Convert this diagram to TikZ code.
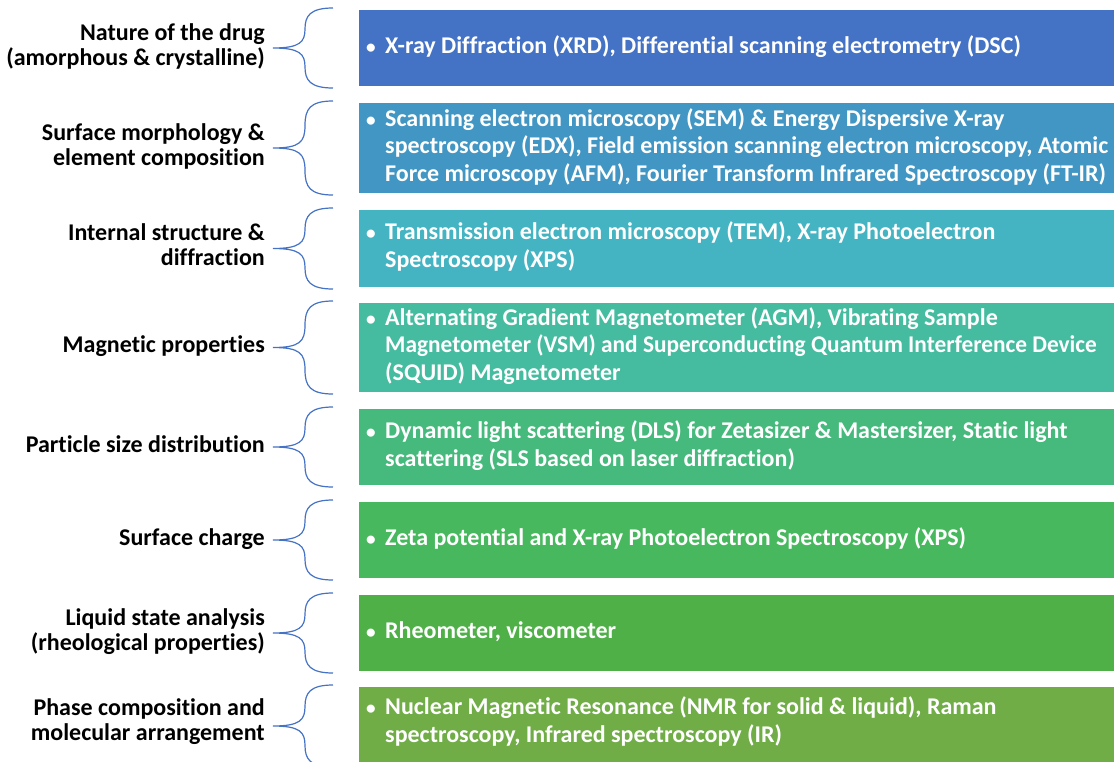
\documentclass[tikz,border=0pt]{standalone}
\usepackage{fontspec}
\setmainfont{Carlito}[Ligatures=NoCommon]
\definecolor{cA}{HTML}{4472C4}
\definecolor{cB}{HTML}{4296C3}
\definecolor{cC}{HTML}{44B4C2}
\definecolor{cD}{HTML}{45BC9F}
\definecolor{cE}{HTML}{46B97C}
\definecolor{cF}{HTML}{47B85D}
\definecolor{cG}{HTML}{4FB048}
\definecolor{cH}{HTML}{70AD47}
\definecolor{braceblue}{HTML}{4472C4}
\newcommand{\boxtext}[1]{\fontsize{24}{27.5}\selectfont\bfseries\makebox[19pt][l]{\scalebox{0.8}{\textbullet}}\begin{tabular}[t]{@{}l@{}}#1\end{tabular}}
\newcommand{\labtext}[1]{\fontsize{24}{25}\selectfont\bfseries\begin{tabular}[t]{@{}r@{}}#1\end{tabular}}
\begin{document}
\begin{tikzpicture}[x=1pt,y=-1pt,
  techbox/.style={fill=#1,draw=none},
  techtext/.style={anchor=west,inner sep=0pt,text=white,font=\bfseries},
  labnode/.style={anchor=east,inner sep=0pt,text=black},
  bracecurve/.style={draw=braceblue,line width=1.2pt}]
\useasboundingbox (0,0) rectangle (1117,761);
\foreach \t/\b/\c [count=\i] in {10/86/cA,103/193/cB,210/287/cC,303/392/cD,409/485/cE,502/578/cF,595/671/cG,687/765/cH}{
  \fill[techbox=\c] (359,\t) rectangle (1114,\b);
  \pgfmathsetmacro{\m}{(\t+\b)/2}
  \pgfmathsetmacro{\q}{(\t+\m)/2}
  \pgfmathsetmacro{\r}{(\m+\b)/2}
  \coordinate (bt\i) at (333,\t-2);
  \coordinate (bm\i) at (273,\m);
  \coordinate (bb\i) at (333,\b+2);
  \draw[bracecurve] (bt\i) .. controls (310,\t-2) and (305,\t+6) .. (305,\q)
     .. controls (305,\m-6) and (300,\m) .. (bm\i)
     .. controls (300,\m) and (305,\m+6) .. (305,\r)
     .. controls (305,\b-6) and (310,\b+2) .. (bb\i);
}
\node[labnode] (l1) at (265,48) {\labtext{Nature of the drug\\(amorphous \& crystalline)}};
\node[labnode] (l2) at (265,148) {\labtext{Surface morphology \&\\element composition}};
\node[labnode] (l3) at (265,248) {\labtext{Internal structure \&\\diffraction}};
\node[labnode] (l4) at (265,347) {\labtext{Magnetic properties}};
\node[labnode] (l5) at (265,447) {\labtext{Particle size distribution}};
\node[labnode] (l6) at (265,540) {\labtext{Surface charge}};
\node[labnode] (l7) at (265,633) {\labtext{Liquid state analysis\\(rheological properties)}};
\node[labnode] (l8) at (265,723) {\labtext{Phase composition and\\molecular arrangement}};

\node[techtext] (t1) at (366,48) {\boxtext{X-ray Diffraction (XRD), Differential scanning electrometry (DSC)}};
\node[techtext] (t2) at (366,148) {\boxtext{Scanning electron microscopy (SEM) \& Energy Dispersive X-ray\\spectroscopy (EDX), Field emission scanning electron microscopy, Atomic\\Force microscopy (AFM), Fourier Transform Infrared Spectroscopy (FT-IR)}};
\node[techtext] (t3) at (366,248) {\boxtext{Transmission electron microscopy (TEM), X-ray Photoelectron\\Spectroscopy (XPS)}};
\node[techtext] (t4) at (366,347) {\boxtext{Alternating Gradient Magnetometer (AGM), Vibrating Sample\\\scalebox{0.972}[1]{Magnetometer (VSM) and Superconducting Quantum Interference Device}\\(SQUID) Magnetometer}};
\node[techtext] (t5) at (366,447) {\boxtext{Dynamic light scattering (DLS) for Zetasizer \& Mastersizer, Static light\\scattering (SLS based on laser diffraction)}};
\node[techtext] (t6) at (366,540) {\boxtext{Zeta potential and X-ray Photoelectron Spectroscopy (XPS)}};
\node[techtext] (t7) at (366,633) {\boxtext{Rheometer, viscometer}};
\node[techtext] (t8) at (366,723) {\boxtext{Nuclear Magnetic Resonance (NMR for solid \& liquid), Raman\\spectroscopy, Infrared spectroscopy (IR)}};
\end{tikzpicture}
\end{document}
